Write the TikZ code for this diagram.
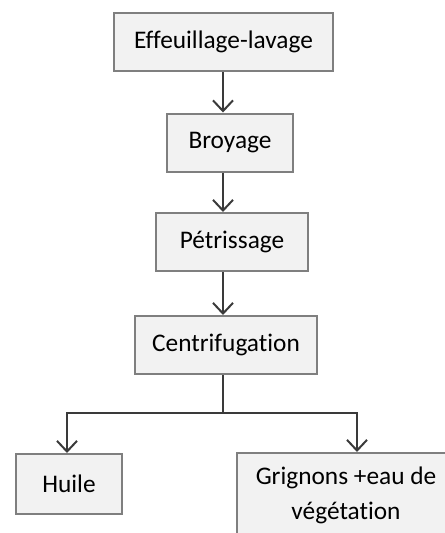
\documentclass[tikz,border=0pt]{standalone}
\usepackage{fontspec}
\setmainfont[Ligatures=NoCommon]{Carlito}
\usepackage{tikz}
\usetikzlibrary{positioning, arrows.meta}
\definecolor{boxfill}{HTML}{F2F2F2}
\definecolor{boxline}{HTML}{7F7F7F}
\definecolor{arrowline}{HTML}{3A3A3A}

\begin{document}
\begin{tikzpicture}[
		% GLOBAL CFG
		x=0.75pt, y=-0.75pt,
		font=\fontsize{19}{26}\selectfont,
		>={Straight Barb[length=8pt,width=15pt]},
		% Styles
		etape/.style={% For the process boxes
			rectangle,
			draw=boxline,
			fill=boxfill,
			line width=1.5pt,
			inner sep=2pt,
			minimum height=58*0.75pt,
			align=center,
		},
		fleche/.style={% Connectors
			draw=arrowline,
			line width=1.5pt,
		},
		]
		\useasboundingbox (0,0) rectangle (444,533);
		
		% Draw the steps
		\node [etape, minimum width=219*0.75pt] (eff) at (223.5,42) {Effeuillage-lavage};
		\node [etape, minimum width=126*0.75pt] (broy) at (230,142.5) {Broyage};
		\node [etape, minimum width=152*0.75pt] (pet) at (232,242) {Pétrissage};
		\node [etape, minimum width=182*0.75pt] (cent) at (226,345) {Centrifugation};
		
		% Draw the products
		\node [etape, minimum width=106*0.75pt, minimum height=60*0.75pt] (huile) at (69,484) {Huile};
		\node [etape, minimum width=218*0.75pt, minimum height=85*0.75pt] (grig) at (346,495.5) {Grignons +eau de\\végétation};
		
		% Branch points
		\coordinate (split) at (223,413);
		\coordinate (gauche) at (67,413);
		\coordinate (droite) at (357,413);
		
		% Drawing arrows
		\draw [->, fleche] (eff.south -| split) -- (broy.north -| split);
		\draw [->, fleche] (broy.south -| split) -- (pet.north -| split);
		\draw [->, fleche] (pet.south -| split) -- (cent.north -| split);
		
		% Outputs
		\draw [fleche] (cent.south -| split) -- (split);
		\draw [->, fleche] (split) -- (gauche) -- (gauche |- huile.north);
		\draw [->, fleche] (split) -- (droite) -- (droite |- grig.north);
		
\end{tikzpicture}
\end{document}
